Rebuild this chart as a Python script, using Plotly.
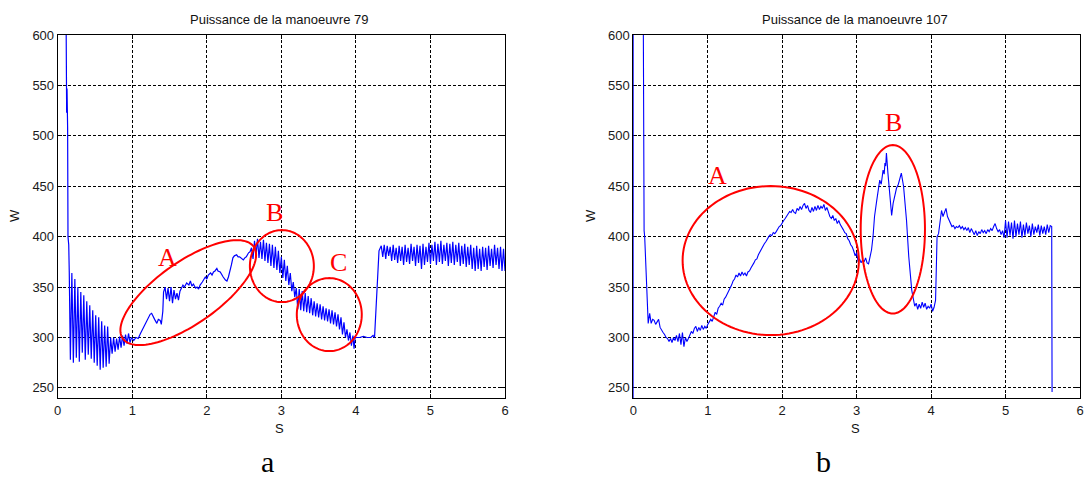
import numpy as np
import plotly.graph_objects as go

W, H = 1089, 478

# ---------------- Data : manoeuvre 79 ----------------
t79_start = [0.11, 0.115, 0.12, 0.125, 0.133, 0.138, 0.148, 0.155, 0.165]
p79_start = [650, 545, 523, 547, 508, 400, 392, 365, 330]

# 0.17 .. 0.99 s (step 0.02)
p79_osc1 = [278, 364, 275, 358, 280, 350, 276, 345, 285, 342, 278, 336, 283, 332,
            279, 327, 275, 322, 272, 320, 268, 316, 270, 312, 271, 311, 274, 300,
            284, 300, 286, 299, 288, 301, 290, 302, 292, 303, 294, 304, 295, 300]

t79_ramp = [1.02, 1.05, 1.08, 1.11, 1.13, 1.17, 1.20, 1.22, 1.24, 1.26, 1.28, 1.30, 1.33,
            1.35, 1.375, 1.39, 1.41, 1.42, 1.44, 1.46, 1.48, 1.50, 1.52, 1.54, 1.56, 1.58,
            1.60, 1.62, 1.64, 1.66, 1.68, 1.70, 1.73, 1.76, 1.78, 1.80, 1.82, 1.85, 1.87,
            1.89, 1.91, 1.94, 1.96, 1.98, 2.00, 2.02, 2.05, 2.07, 2.09, 2.11, 2.135, 2.15,
            2.18, 2.20, 2.22, 2.25, 2.27, 2.29, 2.31, 2.33, 2.35, 2.37, 2.40, 2.42, 2.44,
            2.47, 2.49, 2.51, 2.53, 2.56, 2.58]
p79_ramp = [297, 300, 299, 304, 307, 312, 318, 321, 323, 324, 320, 318, 314,
            318, 317, 313, 326, 345, 350, 338, 349, 336, 350, 334, 347, 338,
            344, 337, 346, 349, 352, 350, 354, 352, 356, 351, 353, 349, 350,
            348, 352, 355, 357, 360, 358, 362, 364, 362, 365, 366, 368.5, 366,
            365, 362, 360, 357, 356, 360, 365, 372, 379, 381, 382, 380, 380,
            378, 377, 379, 380, 384, 385]

# 2.60 .. 3.20 s (step 0.02)
p79_osc2 = [389, 378, 396, 381, 398, 379, 395, 378, 397, 376, 394, 374, 393, 371, 392,
            369, 390, 367, 386, 364, 380, 359, 377, 356, 371, 352, 364, 346, 355, 340, 349]

# 3.22 .. 3.96 s (step 0.02)
p79_osc3 = [328, 348, 327, 346, 326, 344, 325, 341, 324, 339, 322, 336, 321, 334, 320,
            333, 318, 331, 317, 329, 316, 328, 314, 327, 313, 325, 311, 323, 308, 320,
            303, 315, 300, 308, 297, 305, 292, 302]

t79_flat = [3.975, 3.99, 4.05, 4.10, 4.15, 4.20, 4.23, 4.25, 4.28, 4.31, 4.34]
p79_flat = [289, 300, 300, 301, 300, 300, 302, 300, 345, 386, 391]

# 4.36 .. 6.00 s (step 0.02)
p79_osc4 = [380, 392, 378, 391, 381, 390, 376, 392, 377, 389, 374, 391, 376, 390,
            372, 392, 375, 389, 373, 393, 376, 390, 371, 392, 374, 391, 368, 393,
            372, 390, 375, 394, 373, 392, 376, 395, 372, 393, 375, 396, 373, 392,
            376, 394, 371, 393, 374, 395, 372, 392, 375, 394, 371, 391, 373, 393,
            370, 390, 372, 392, 368, 389, 366, 391, 368, 388, 366, 390, 370, 389,
            367, 391, 371, 388, 369, 392, 372, 389, 368, 390, 366, 388, 366]

# ---------------- Data : manoeuvre 107 ----------------
t107_start = [0.0, 0.003, 0.13, 0.134, 0.14, 0.145, 0.153, 0.166, 0.185, 0.20]
p107_start = [0, 700, 700, 513, 508, 406, 400, 370, 334, 314]

# 0.22 .. 3.20 s
p107_main = [324, 314, 318, 317, 313, 316, 318, 310, 307, 305, 303, 300, 299, 296, 299,
             295, 300, 297, 302, 296, 304, 293, 305, 291, 300, 296, 299, 303, 306, 304,
             309, 311, 306, 310, 307, 312, 308, 311, 309, 313, 315, 318, 316, 321, 325,
             323, 329, 331, 334, 332, 338, 340, 343, 345, 349, 352, 356, 358, 362, 360,
             364, 361, 365, 362, 364, 361, 365, 366, 369, 371, 374, 377, 378, 382, 385,
             387, 390, 393, 395, 398, 400, 402, 401, 404, 403, 405, 408, 410, 411, 414,
             416, 418, 420, 422, 425, 424, 427, 424, 423, 428, 426, 430, 427, 431, 433,
             428, 431, 426, 424, 429, 425, 430, 426, 431, 427, 430, 428, 432, 426, 429,
             423, 420, 418, 421, 416, 418, 413, 416, 412, 410, 407, 404, 403, 398, 396,
             392, 390, 386, 381, 384, 375, 378, 374, 377, 375, 379, 374, 373, 380, 387]

t107_peak = [3.22, 3.24, 3.27, 3.29, 3.31, 3.33, 3.355, 3.37, 3.38, 3.39, 3.40, 3.42,
             3.445, 3.47, 3.49, 3.51, 3.535, 3.56, 3.58, 3.60, 3.63, 3.67, 3.70, 3.74, 3.78]
p107_peak = [400, 420, 436, 447, 456, 452, 466, 462, 473, 470, 483, 463,
             440, 421, 433, 440, 448, 452, 459, 463, 450, 416, 380, 347, 331]

# 3.80 .. 4.98 s
p107_tail = [334, 328, 333, 329, 335, 330, 334, 328, 331, 329, 333, 326, 330, 337,
             400, 403, 415, 426, 420, 424, 428, 420, 416, 413, 410, 411, 408, 410,
             409, 411, 408, 410, 407, 409, 406, 409, 404, 408, 405, 402, 406, 401,
             405, 403, 407, 404, 406, 403, 407, 405, 408, 406, 410, 413, 408, 405,
             407, 402, 406, 399]

# 5.00 .. 5.62 s
p107_osc = [416, 399, 415, 401, 414, 398, 416, 400, 413, 402, 415, 399, 412, 401, 414,
            403, 411, 400, 413, 402, 410, 404, 412, 401, 411, 403, 410, 402, 412, 404,
            411, 410]
t107_end = [5.625]
p107_end = [246]

# ---------------- Build series ----------------
def seg(t0, t1, vals):
    return list(np.linspace(t0, t1, len(vals))), list(vals)

parts79 = [(t79_start, p79_start), seg(0.17, 0.99, p79_osc1), (t79_ramp, p79_ramp),
           seg(2.60, 3.20, p79_osc2), seg(3.22, 3.96, p79_osc3), (t79_flat, p79_flat),
           seg(4.36, 6.00, p79_osc4)]
parts107 = [(t107_start, p107_start), seg(0.22, 3.20, p107_main), (t107_peak, p107_peak),
            seg(3.80, 4.98, p107_tail), seg(5.00, 5.62, p107_osc), (t107_end, p107_end)]

def join(parts):
    xs, ys = [], []
    for t, p in parts:
        n = min(len(t), len(p))
        xs += list(t[:n]); ys += list(p[:n])
    return xs, ys

x79, y79 = join(parts79)
x107, y107 = join(parts107)

titles = ["Puissance de la manoeuvre 79", "Puissance de la manoeuvre 107"]
x_ticks = [0, 1, 2, 3, 4, 5, 6]
y_ticks = [250, 300, 350, 400, 450, 500, 550, 600]

# ---------------- Figure ----------------
fig = go.Figure()
blue = "rgb(0,0,255)"
fig.add_trace(go.Scatter(x=x79, y=y79, mode="lines", line=dict(color=blue, width=1.2),
                         xaxis="x", yaxis="y", showlegend=False, hoverinfo="skip"))
fig.add_trace(go.Scatter(x=x107, y=y107, mode="lines", line=dict(color=blue, width=1.1),
                         xaxis="x2", yaxis="y2", showlegend=False, hoverinfo="skip"))

ytop, ybot = 35, 398
ydom = [1 - ybot / H, 1 - ytop / H]
xdom1 = [57.7 / W, 505 / W]
xdom2 = [633.3 / W, 1080 / W]

tickfont = dict(family="Liberation Sans, Arial, sans-serif", size=13, color="#1a1a1a")
ax = dict(showline=True, linecolor="black", linewidth=1, mirror="ticks",
          ticks="inside", ticklen=4, tickcolor="black", showgrid=True,
          gridcolor="black", gridwidth=1, griddash="3px,2px", zeroline=False,
          tickfont=tickfont, fixedrange=True, automargin=False, layer="below traces")

fig.update_layout(
    width=W, height=H, autosize=False,
    margin=dict(l=0, r=0, t=0, b=0, pad=0),
    paper_bgcolor="white", plot_bgcolor="white",
    xaxis=dict(domain=xdom1, range=[0, 6], tickvals=x_ticks, anchor="y", **ax),
    yaxis=dict(domain=ydom, range=[240, 600], tickvals=y_ticks, anchor="x", **ax),
    xaxis2=dict(domain=xdom2, range=[0, 6], tickvals=x_ticks, anchor="y2", **ax),
    yaxis2=dict(domain=ydom, range=[240, 600], tickvals=y_ticks, anchor="x2", **ax),
)

def pp(px, py):
    return px / W, 1 - py / H

small = dict(family="Liberation Sans, Arial, sans-serif", size=13, color="#111")
annots = []
for txt, cx in zip(titles, [279, 855]):
    x, y = pp(cx, 19)
    annots.append(dict(text=txt, x=x, y=y, xref="paper", yref="paper", showarrow=False,
                       font=small, xanchor="center", yanchor="middle"))
for cx in [279, 855]:
    x, y = pp(cx, 428)
    annots.append(dict(text="S", x=x, y=y, xref="paper", yref="paper", showarrow=False,
                       font=small, xanchor="center", yanchor="middle"))
for cx in [14, 590]:
    x, y = pp(cx, 216)
    annots.append(dict(text="W", x=x, y=y, xref="paper", yref="paper", showarrow=False,
                       font=small, textangle=-90, xanchor="center", yanchor="middle"))
serif_big = dict(family="Liberation Serif, Times New Roman, serif", size=30, color="black")
for txt, cx in [("a", 267), ("b", 824)]:
    x, y = pp(cx, 461)
    annots.append(dict(text=txt, x=x, y=y, xref="paper", yref="paper", showarrow=False,
                       font=serif_big, xanchor="center", yanchor="middle"))

# red labels (data coords)
red_font = dict(family="Liberation Serif, Times New Roman, serif", size=26, color="red")
labels = [("A", 1.467, 379, "x", "y"), ("B", 2.913, 424, "x", "y"), ("C", 3.771, 374, "x", "y"),
          ("A", 1.137, 461, "x2", "y2"), ("B", 3.49, 513, "x2", "y2")]
for txt, lx, ly, xr, yr in labels:
    annots.append(dict(text=txt, x=lx, y=ly, xref=xr, yref=yr, showarrow=False,
                       font=red_font, xanchor="center", yanchor="middle"))
fig.update_layout(annotations=annots)

# red ellipses: (xref, yref, center_t, center_P, rx_px, ry_px, angle_deg)
px_per_s = 74.6
px_per_W = 1.008
ellipses = [("x", "y", 1.751, 344.5, 80, 31, 35),
            ("x", "y", 3.007, 370.8, 32, 36, 0),
            ("x", "y", 3.643, 322.7, 32.5, 36.5, 0),
            ("x2", "y2", 1.846, 376.3, 88.3, 74.5, 0),
            ("x2", "y2", 3.486, 407.3, 32.2, 84.2, 0)]
shapes = []
th = np.linspace(0, 2 * np.pi, 121)
for xr, yr, cx, cy, a, b, ang in ellipses:
    r = np.deg2rad(ang)
    dxp = a * np.cos(th) * np.cos(r) - b * np.sin(th) * np.sin(r)
    dyp = a * np.cos(th) * np.sin(r) + b * np.sin(th) * np.cos(r)
    xs = cx + dxp / px_per_s
    ys = cy + dyp / px_per_W
    path = "M " + " L ".join(f"{x:.4f},{y:.3f}" for x, y in zip(xs, ys)) + " Z"
    shapes.append(dict(type="path", path=path, xref=xr, yref=yr,
                       line=dict(color="red", width=2), layer="above"))
fig.update_layout(shapes=shapes)

fig.write_html("out.html", config={"displayModeBar": False},
               post_script="document.body.style.margin='0';document.body.style.overflow='hidden';")
